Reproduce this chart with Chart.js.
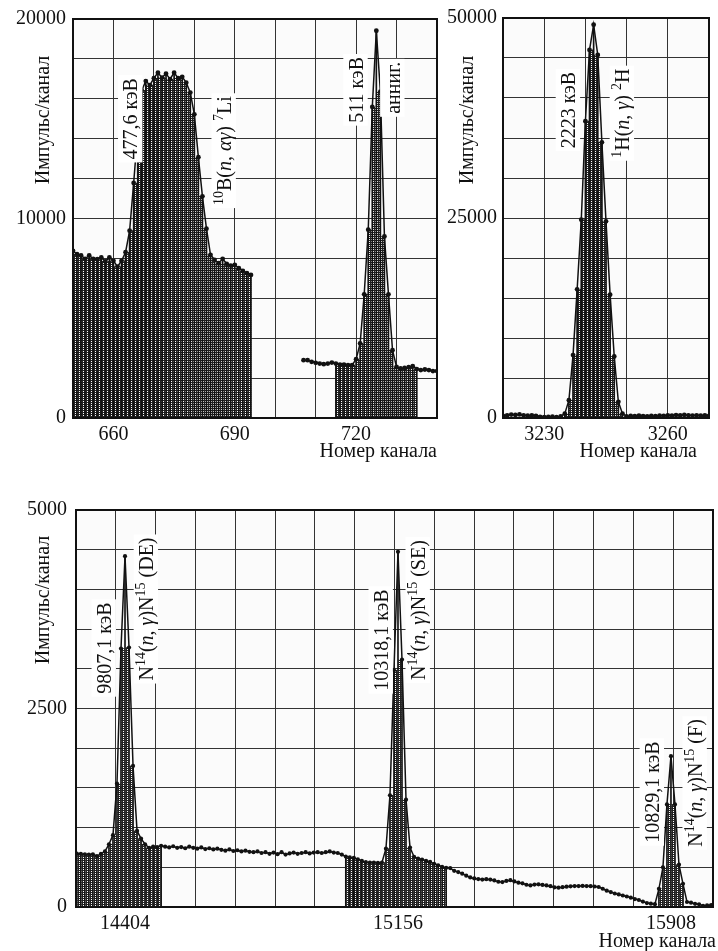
<!DOCTYPE html>
<html lang="ru">
<head>
<meta charset="utf-8">
<title>Спектр</title>
<script src="https://cdn.jsdelivr.net/npm/chart.js@4.4.1/dist/chart.umd.min.js"></script>
<style>
  html, body { margin: 0; padding: 0; background: #fff; }
  #wrap { position: relative; width: 718px; height: 951px; }
  canvas { position: absolute; }
  #c1 { left: 0; top: 0; }
  #c2 { left: 442px; top: 0; }
  #c3 { left: 0; top: 480px; }
</style>
</head>
<body>
<div id="wrap">
  <canvas id="c1" width="442" height="470"></canvas>
  <canvas id="c2" width="276" height="470"></canvas>
  <canvas id="c3" width="718" height="471"></canvas>
</div>
<script>
// ==============================
// Данные (отсчёты по каналам)
// ==============================

// Панель 1: 477,6 кэВ и 511 кэВ
const P1A_START = 650;
const P1A_COUNTS = [
  8380, 8210, 8150, 7980, 8150, 7980, 7960, 8050, 7850, 8050,
  7880, 7590, 7880, 8310, 9390, 11780, 14350, 16420, 16890, 16690,
  17030, 17310, 17060, 17260, 16980, 17310, 17030, 17100, 16810, 16310,
  15220, 13070, 11110, 9490, 8180, 7930, 7760, 7980, 7730, 7640,
  7680, 7510, 7370, 7260, 7170
];
const P1B_START = 707;
const P1B_COUNTS = [
  2900, 2900, 2815, 2765, 2730, 2700, 2730, 2780, 2730, 2680,
  2680, 2650, 2650, 2950, 3740, 6200, 9440, 15590, 19410, 16360,
  9100, 6200, 3400, 2560, 2480, 2510, 2550, 2600, 2450, 2400,
  2430, 2400, 2350, 2350
];
const P1_X_LABELS = [660, 690, 720];
const P1_Y_LABELS = [0, 10000, 20000];

// Панель 2: 2223 кэВ
const P2_START = 3220;
const P2_COUNTS = [
  250, 320, 430, 380, 450, 330, 280, 320, 260, 150,
  110, 130, 160, 120, 200, 546, 2230, 7860, 16090, 24790,
  37100, 46010, 49160, 45380, 34460, 24580, 15420, 7690, 2020, 546,
  210, 250, 220, 280, 240, 210, 260, 230, 300, 270,
  330, 290, 360, 320, 380, 340, 300, 340, 280, 320, 260
];
const P2_X_LABELS = [3230, 3260];
const P2_Y_LABELS = [0, 25000, 50000];

// Панель 3: N14(n,γ)N15
const P3_START = 14271.3;
const P3_STEP = 11.06;
const P3_COUNTS = [
  672, 668, 664, 660, 664, 640, 668, 700, 790, 905,
  1554, 3255, 4418, 3268, 1777, 958, 861, 790, 745, 760,
  755, 770, 760, 750, 765, 745, 755, 740, 760, 745,
  735, 750, 730, 740, 725, 735, 720, 710, 725, 705,
  715, 700, 710, 695, 690, 700, 680, 690, 670, 685,
  665, 690, 660, 675, 685, 670, 680, 690, 675, 685,
  690, 680, 690, 700, 685, 680, 660, 635, 625, 620,
  600, 580, 565, 560, 560, 555, 560, 735, 1407, 2982,
  4473, 3116, 1352, 748, 633, 610, 598, 580, 568, 545,
  525, 505, 494, 490, 455, 440, 420, 395, 372, 360,
  352, 345, 350, 345, 335, 318, 314, 328, 338, 322,
  306, 298, 280, 272, 282, 285, 278, 272, 262, 248,
  243, 250, 256, 260, 263, 264, 266, 264, 262, 258,
  252, 230, 205, 188, 170, 158, 145, 132, 118, 100,
  88, 68, 50, 42, 35, 229, 500, 1292, 1900, 1292,
  533, 292, 63, 55, 40, 34, 15, 20, 25
];
const P3_X_LABELS = [14404, 15156, 15908];
const P3_Y_LABELS = [0, 2500, 5000];

// ==============================
// Оформление
// ==============================
const FONT = '"Liberation Serif", "Times New Roman", serif';
const INK = '#111';
const GRID = '#333';
const FS = 20;

Chart.defaults.font.family = FONT;
Chart.defaults.font.size = FS;
Chart.defaults.color = INK;

const TITLE_Y = 'Импульс/канал';
const TITLE_X = 'Номер канала';

// подписи пиков: куски текста (sup - верхний индекс, it - курсив)
const reaction = (a, b, c, d, tail) => [
  { t: a, sup: true }, { t: b + '(' }, { t: 'n', it: true }, { t: ', ' },
  { t: c, it: true }, { t: ') ' }, { t: d, sup: true }, { t: tail }
];
const nitrogen = tail => [
  { t: 'N' }, { t: '14', sup: true }, { t: '(' }, { t: 'n', it: true }, { t: ', ' },
  { t: 'γ', it: true }, { t: ')N' }, { t: '15', sup: true }, { t: ' ' + tail }
];

// мелкая сетка-штриховка под пиками
function meshPattern(ctx) {
  const t = document.createElement('canvas');
  t.width = 2; t.height = 2;
  const g = t.getContext('2d');
  g.fillStyle = '#fff'; g.fillRect(0, 0, 2, 2);
  g.fillStyle = '#222'; g.fillRect(0, 0, 1, 2); g.fillRect(0, 0, 2, 1);
  return ctx.createPattern(t, 'repeat');
}

function runFont(r) {
  const s = r.sup ? Math.round(FS * 0.68) : FS;
  return (r.it ? 'italic ' : '') + s + 'px ' + FONT;
}

// текст из кусков, по центру (cx, cy), при rotate - снизу вверх
function drawRich(ctx, runs, cx, cy, opt) {
  ctx.save();
  ctx.translate(cx, cy);
  if (opt.rotate) ctx.rotate(-Math.PI / 2);
  let w = 0;
  const widths = runs.map(r => { ctx.font = runFont(r); const m = ctx.measureText(r.t).width; w += m; return m; });
  const x0 = opt.align === 'right' ? -w : -w / 2;
  if (opt.box) {
    ctx.fillStyle = '#fff';
    ctx.fillRect(x0 - 3, -FS * 0.62, w + 6, FS * 1.22);
  }
  ctx.fillStyle = INK;
  ctx.textBaseline = 'alphabetic';
  ctx.textAlign = 'left';
  let x = x0;
  runs.forEach((r, i) => {
    ctx.font = runFont(r);
    ctx.fillText(r.t, x, FS * 0.35 - (r.sup ? FS * 0.4 : 0));
    x += widths[i];
  });
  ctx.restore();
}

function makeDecor(notes, titles) {
  return {
    id: 'decor',
    beforeDraw(chart) {
      const { ctx, chartArea: a } = chart;
      ctx.save();
      ctx.fillStyle = '#fbfbfb';
      ctx.fillRect(a.left, a.top, a.width, a.height);
      ctx.restore();
    },
    afterDatasetsDraw(chart) {
      const { ctx, chartArea: a } = chart;
      ctx.save();
      ctx.strokeStyle = INK;
      ctx.lineWidth = 2;
      ctx.strokeRect(a.left, a.top, a.width, a.height);
      ctx.restore();
    },
    afterDraw(chart) {
      const { ctx, scales } = chart;
      notes.forEach(n => drawRich(ctx, n.runs, scales.x.getPixelForValue(n.x), scales.y.getPixelForValue(n.y), { rotate: true, box: true }));
      titles.forEach(t => drawRich(ctx, [{ t: t.text }], t.px, t.py, { rotate: t.rotate, align: t.align }));
    }
  };
}

// ==============================
// Построение одного спектра
// ==============================
function spectrumChart(id, o) {
  const canvas = document.getElementById(id);
  const pattern = meshPattern(canvas.getContext('2d'));
  const datasets = [];

  o.segments.forEach(seg => {
    const pts = seg.counts.map((y, i) => ({ x: seg.start + i * seg.step, y }));
    (seg.rois || []).forEach(([a, b]) => {
      const mesh = [], stems = [];
      for (let i = a; i <= b; i++) {
        stems.push(pts[i]);
        if (i < b) mesh.push({ x: (pts[i].x + pts[i + 1].x) / 2, y: Math.min(pts[i].y, pts[i + 1].y) });
      }
      datasets.push({ type: 'bar', data: mesh, xAxisID: 'x', backgroundColor: pattern, borderWidth: 0,
        barPercentage: 1, categoryPercentage: 1, grouped: false, order: 3 });
      datasets.push({ type: 'bar', data: stems, xAxisID: 'xs', backgroundColor: INK, borderWidth: 0,
        barThickness: 1, grouped: false, order: 2 });
    });
    datasets.push({ type: 'line', data: pts, xAxisID: 'x', borderColor: INK, borderWidth: 1.5,
      pointRadius: o.dot, pointBackgroundColor: INK, pointBorderWidth: 0, fill: false, tension: 0, order: 1 });
  });

  const gridVals = [];
  for (let k = 0; k <= o.cols; k++) gridVals.push(o.xMin + k * (o.xMax - o.xMin) / o.cols);
  const onGrid = v => gridVals.some(g => Math.abs(g - v) < 1e-6);
  const tickVals = gridVals.concat(o.xLabels.filter(v => !onGrid(v))).sort((a, b) => a - b);

  return new Chart(canvas, {
    type: 'bar',
    data: { datasets },
    options: {
      responsive: false,
      devicePixelRatio: 1,
      animation: false,
      events: [],
      layout: { padding: o.padding },
      plugins: { legend: { display: false }, tooltip: { enabled: false } },
      scales: {
        x: {
          type: 'linear', min: o.xMin, max: o.xMax, offset: false,
          afterBuildTicks: s => { s.ticks = tickVals.map(v => ({ value: v })); },
          afterFit: s => { s.height = o.xHeight; },
          grid: { color: c => (c.tick && !onGrid(c.tick.value)) ? 'rgba(0,0,0,0)' : GRID,
                  lineWidth: 1, drawTicks: false, offset: false },
          border: { display: false },
          ticks: { autoSkip: false, maxRotation: 0, padding: 5,
                   callback: v => o.xLabels.includes(v) ? String(v) : '' }
        },
        xs: { type: 'linear', min: o.xMin, max: o.xMax, offset: false, display: false },
        y: {
          type: 'linear', min: 0, max: o.yMax,
          afterFit: s => { s.width = o.yWidth; },
          grid: { color: GRID, lineWidth: 1, drawTicks: false },
          border: { display: false },
          ticks: { stepSize: o.yStep, padding: o.yPad,
                   callback: v => o.yLabels.includes(v) ? String(v) : '' }
        }
      }
    },
    plugins: [makeDecor(o.notes, o.titles)]
  });
}

// ==============================
// Три панели
// ==============================
spectrumChart('c1', {
  segments: [
    { start: P1A_START, step: 1, counts: P1A_COUNTS, rois: [[0, 44]] },
    { start: P1B_START, step: 1, counts: P1B_COUNTS, rois: [[8, 28]] }
  ],
  xMin: 650, xMax: 740, cols: 9, xLabels: P1_X_LABELS,
  yMax: 20000, yStep: 2000, yLabels: P1_Y_LABELS,
  padding: { top: 18, right: 2, left: 0, bottom: 0 }, yWidth: 73, xHeight: 52, yPad: 7, dot: 2.4,
  notes: [
    { x: 664.2, y: 15000, runs: [{ t: '477,6 кэВ' }] },
    { x: 687.3, y: 13400, runs: reaction('10', 'B', 'αγ', '7', 'Li') },
    { x: 719.9, y: 16450, runs: [{ t: '511 кэВ' }] },
    { x: 729.0, y: 16550, runs: [{ t: 'анниг.' }] }
  ],
  titles: [
    { text: TITLE_Y, px: 42, py: 120, rotate: true },
    { text: TITLE_X, px: 437, py: 450, align: 'right' }
  ]
});

spectrumChart('c2', {
  segments: [{ start: P2_START, step: 1, counts: P2_COUNTS, rois: [[15, 29]] }],
  xMin: 3220, xMax: 3270, cols: 5, xLabels: P2_X_LABELS,
  yMax: 50000, yStep: 5000, yLabels: P2_Y_LABELS,
  padding: { top: 18, right: 9, left: 0, bottom: 0 }, yWidth: 61, xHeight: 52, yPad: 6, dot: 2.4,
  notes: [
    { x: 3235.8, y: 38500, runs: [{ t: '2223 кэВ' }] },
    { x: 3248.9, y: 38100, runs: reaction('1', 'H', 'γ', '2', 'H') }
  ],
  titles: [
    { text: TITLE_Y, px: 24, py: 120, rotate: true },
    { text: TITLE_X, px: 255, py: 450, align: 'right' }
  ]
});

spectrumChart('c3', {
  segments: [{ start: P3_START, step: P3_STEP, counts: P3_COUNTS, rois: [[0, 21], [67, 92], [145, 151]] }],
  xMin: 14269, xMax: 16024, cols: 16, xLabels: P3_X_LABELS,
  yMax: 5000, yStep: 500, yLabels: P3_Y_LABELS,
  padding: { top: 30, right: 5, left: 0, bottom: 0 }, yWidth: 76, xHeight: 44, yPad: 9, dot: 2.1,
  notes: [
    { x: 14346, y: 3262, runs: [{ t: '9807,1 кэВ' }] },
    { x: 14462, y: 3753, runs: nitrogen('(DE)') },
    { x: 15109, y: 3363, runs: [{ t: '10318,1 кэВ' }] },
    { x: 15211, y: 3740, runs: nitrogen('(SE)') },
    { x: 15856, y: 1448, runs: [{ t: '10829,1 кэВ' }] },
    { x: 15974, y: 1562, runs: nitrogen('(F)') }
  ],
  titles: [
    { text: TITLE_Y, px: 42, py: 120, rotate: true },
    { text: TITLE_X, px: 716, py: 460, align: 'right' }
  ]
});
</script>
</body>
</html>
